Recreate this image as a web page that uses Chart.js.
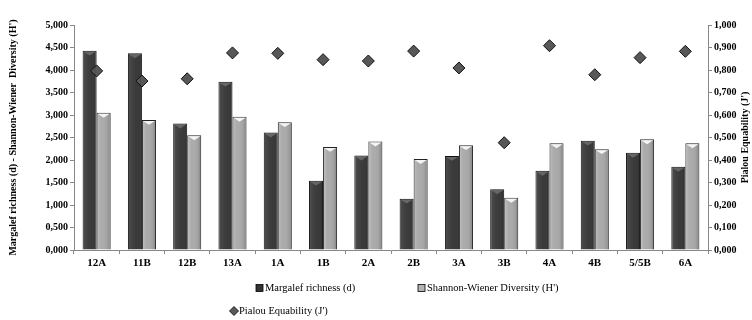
<!DOCTYPE html>
<html><head><meta charset="utf-8">
<script src="https://cdn.jsdelivr.net/npm/chart.js@4.4.1/dist/chart.umd.min.js"></script>
<style>html,body{margin:0;padding:0;background:#fff}#wrap{width:752px;height:320px;position:relative}</style>
</head><body><div id="wrap"><canvas id="c" width="752" height="320"></canvas></div>
<script>
const categories = ['12A','11B','12B','13A','1A','1B','2A','2B','3A','3B','4A','4B','5/5B','6A'];
const margalef = [4.43,4.37,2.81,3.74,2.61,1.54,2.10,1.14,2.09,1.35,1.76,2.43,2.16,1.85];
const shannon  = [3.05,2.89,2.55,2.96,2.84,2.29,2.41,2.02,2.33,1.16,2.37,2.24,2.46,2.37];
const pielou   = [0.796,0.751,0.761,0.876,0.874,0.846,0.840,0.884,0.809,0.477,0.908,0.779,0.855,0.883];
const leftTicks = [0,0.5,1,1.5,2,2.5,3,3.5,4,4.5,5];
const rightTicks = [0,0.1,0.2,0.3,0.4,0.5,0.6,0.7,0.8,0.9,1.0];

const FONT = '"Liberation Serif", "Times New Roman", serif';
const fmt = v => Number(v).toFixed(3).replace('.', ',');

const bevel = {
  id:'bevel',
  afterDatasetsDraw(chart){
    const ctx = chart.ctx;
    [0,1].forEach(di=>{
      const meta = chart.getDatasetMeta(di);
      meta.data.forEach(el=>{
        const w = el.width, x0 = el.x - w/2, x1 = el.x + w/2, top = el.y, bot = el.base;
        ctx.save();
        const g = ctx.createLinearGradient(x0,0,x1,0);
        if(di===0){g.addColorStop(0,'rgba(255,255,255,0.10)');g.addColorStop(0.25,'rgba(255,255,255,0.05)');g.addColorStop(0.8,'rgba(0,0,0,0)');g.addColorStop(1,'rgba(0,0,0,0.25)');}
        else{g.addColorStop(0,'rgba(255,255,255,0.25)');g.addColorStop(0.3,'rgba(255,255,255,0.0)');g.addColorStop(0.75,'rgba(0,0,0,0.05)');g.addColorStop(1,'rgba(0,0,0,0.25)');}
        ctx.fillStyle = g;
        ctx.fillRect(x0+1, top+1, w-2, bot-top-1);
        ctx.beginPath();
        ctx.moveTo(x0+1, top+1); ctx.lineTo(x1-1, top+1); ctx.lineTo(el.x, top + w*0.35); ctx.closePath();
        ctx.fillStyle = di===0 ? '#666' : '#f4f4f4';
        ctx.fill();
        ctx.restore();
      });
    });
  }
};

const decor = {
  id:'decor',
  afterDraw(chart){
    const ctx = chart.ctx, ca = chart.chartArea;
    ctx.save();
    ctx.fillStyle = '#000';
    ctx.font = 'bold 10px ' + FONT;
    ctx.textAlign = 'center'; ctx.textBaseline = 'middle';
    ctx.save(); ctx.translate(13, (ca.top+ca.bottom)/2); ctx.rotate(-Math.PI/2);
    ctx.fillText("Margalef richness (d) - Shannon-Wiener  Diversity (H')", 0, 0); ctx.restore();
    ctx.save(); ctx.translate(745, (ca.top+ca.bottom)/2); ctx.rotate(-Math.PI/2);
    ctx.fillText("Pialou Equability (J')", 0, 0); ctx.restore();
    ctx.font = '10.5px ' + FONT; ctx.textAlign='left';
    const items = [
      {x:256,y:288,t:'Margalef richness (d)',k:'bar',c:'#333333'},
      {x:418,y:288,t:"Shannon-Wiener Diversity (H')",k:'bar',c:'#b4b4b4'},
      {x:230,y:311,t:"Pialou Equability (J')",k:'dia',c:'#5a5a5a'}
    ];
    items.forEach(it=>{
      ctx.fillStyle = it.c; ctx.strokeStyle='#000'; ctx.lineWidth=0.8;
      if(it.k==='bar'){ ctx.fillRect(it.x, it.y-3.5, 7, 7); ctx.strokeRect(it.x, it.y-3.5, 7, 7); }
      else { ctx.beginPath(); ctx.moveTo(it.x+4,it.y-4.5); ctx.lineTo(it.x+8.5,it.y); ctx.lineTo(it.x+4,it.y+4.5); ctx.lineTo(it.x-0.5,it.y); ctx.closePath(); ctx.fill(); ctx.stroke(); }
      ctx.fillStyle='#000'; ctx.fillText(it.t, it.x+9, it.y);
    });
    ctx.restore();
  }
};

new Chart(document.getElementById('c'), {
  data: {
    labels: categories,
    datasets: [
      {type:'bar', label:'Margalef richness (d)', data: margalef, yAxisID:'y', backgroundColor:'#3a3a3a', borderColor:'#111', borderWidth:1, categoryPercentage:0.62, barPercentage:1.0, order:2},
      {type:'bar', label:"Shannon-Wiener Diversity (H')", data: shannon, yAxisID:'y', backgroundColor:'#ababab', borderColor:'#222', borderWidth:1, categoryPercentage:0.62, barPercentage:1.0, order:2},
      {type:'line', label:"Pialou Equability (J')", data: pielou, yAxisID:'y1', showLine:false, pointStyle:'rectRot', pointRadius:6, pointHoverRadius:6, backgroundColor:'#585858', borderColor:'#111', borderWidth:1, order:1}
    ]
  },
  options: {
    responsive:false, animation:false, devicePixelRatio:1,
    layout:{padding:{top:25,bottom:45,left:0,right:0}},
    plugins:{legend:{display:false}, tooltip:{enabled:false}},
    scales:{
      x:{
        offset:true,
        grid:{offset:true, drawOnChartArea:false, drawTicks:true, tickLength:4, color:'#888'},
        border:{color:'#888', width:1},
        ticks:{color:'#000', font:{family:FONT, size:11, weight:'bold'}, padding:3, maxRotation:0, autoSkip:false},
        afterFit(s){ s.height = 25; }
      },
      y:{
        position:'left', min:0, max:5,
        afterBuildTicks(s){ s.ticks = leftTicks.map(v=>({value:v})); },
        grid:{drawOnChartArea:false, drawTicks:true, tickLength:4, color:'#888'},
        border:{color:'#888', width:1},
        ticks:{color:'#000', font:{family:FONT, size:10, weight:'bold'}, padding:2, callback:v=>fmt(v)},
        afterFit(s){ s.width = 74; }
      },
      y1:{
        position:'right', min:0, max:1,
        afterBuildTicks(s){ s.ticks = rightTicks.map(v=>({value:v})); },
        grid:{drawOnChartArea:false, drawTicks:true, tickLength:4, color:'#888'},
        border:{color:'#888', width:1},
        ticks:{color:'#000', font:{family:FONT, size:10, weight:'bold'}, padding:2, callback:v=>fmt(v)},
        afterFit(s){ s.width = 44; }
      }
    }
  },
  plugins:[bevel, decor]
});
</script></body></html>
